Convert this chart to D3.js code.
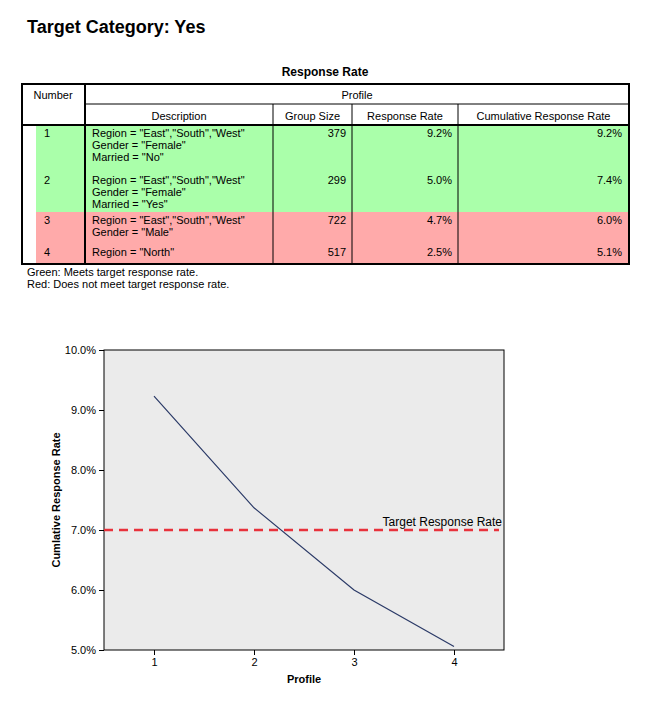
<!DOCTYPE html><html><head><script src="https://cdn.jsdelivr.net/npm/d3@7"></script>
<style>body{margin:0;background:#fff}</style></head><body><svg id="c" width="650" height="702"></svg>
<script>
const profiles=[1,2,3,4];
const descriptions=[['Region = "East","South","West"','Gender = "Female"','Married = "No"'],['Region = "East","South","West"','Gender = "Female"','Married = "Yes"'],['Region = "East","South","West"','Gender = "Male"'],['Region = "North"']];
const groupSizes=[379,299,722,517];
const responseRates=[9.2,5.0,4.7,2.5];
const cumRates=[9.2,7.4,6.0,5.1];
const cumLine=[9.23,7.37,6.0,5.06];
const meets=[true,true,false,false];
const target=7.0;
const yTicks=[5,6,7,8,9,10];
const svg=d3.select('#c');const F='Arial, Liberation Sans, sans-serif';
svg.append('text').attr('x',27).attr('y',33).attr('font-family',F).attr('font-weight','bold').attr('font-size',18).text('Target Category: Yes');
svg.append('text').attr('x',325).attr('y',76).attr('text-anchor','middle').attr('font-family',F).attr('font-weight','bold').attr('font-size',12).text('Response Rate');
const cols=[85,273,352,458,629];
const rowTop=[125,172,212,244],rowBot=[172,212,244,264];
const g=svg.append('g').attr('font-family',F).attr('font-size',11);
profiles.forEach((p,i)=>{g.append('rect').attr('x',36).attr('y',rowTop[i]).attr('width',629-36).attr('height',rowBot[i]-rowTop[i]).attr('fill',meets[i]?'#aaffaa':'#ffaaaa');});
const L=(x1,y1,x2,y2,w)=>g.append('line').attr('x1',x1).attr('y1',y1).attr('x2',x2).attr('y2',y2).attr('stroke','#000').attr('stroke-width',w||1);
L(85,104,629,104);
[273,352,458].forEach(x=>L(x,104,x,264));
L(85,84,85,264,2);L(22,125,629,125,2);
g.append('rect').attr('x',22).attr('y',84).attr('width',607).attr('height',180).attr('fill','none').attr('stroke','#000').attr('stroke-width',2);
g.append('text').attr('x',53).attr('y',99).attr('text-anchor','middle').text('Number');
g.append('text').attr('x',357).attr('y',99).attr('text-anchor','middle').text('Profile');
['Description','Group Size','Response Rate','Cumulative Response Rate'].forEach((t,j)=>g.append('text').attr('x',(cols[j]+cols[j+1])/2).attr('y',120).attr('text-anchor','middle').text(t));
profiles.forEach((p,i)=>{const y=rowTop[i]+12;
g.append('text').attr('x',44).attr('y',y).text(p);
descriptions[i].forEach((d,k)=>g.append('text').attr('x',92).attr('y',y+k*12).text(d));
g.append('text').attr('x',346).attr('y',y).attr('text-anchor','end').text(groupSizes[i]);
g.append('text').attr('x',452).attr('y',y).attr('text-anchor','end').text(responseRates[i].toFixed(1)+'%');
g.append('text').attr('x',622).attr('y',y).attr('text-anchor','end').text(cumRates[i].toFixed(1)+'%');});
g.append('text').attr('x',27).attr('y',276).text('Green: Meets target response rate.');
g.append('text').attr('x',27).attr('y',288).text('Red: Does not meet target response rate.');
const x=d3.scaleLinear().domain([0.5,4.5]).range([104,504]);
const y=d3.scaleLinear().domain([5,10]).range([650,350]);
const c=svg.append('g').attr('font-family',F);
c.append('rect').attr('x',104).attr('y',350).attr('width',400).attr('height',300).attr('fill','#ebebeb').attr('stroke','#000');
c.append('g').attr('transform','translate(104,0)').call(d3.axisLeft(y).tickValues(yTicks).tickSize(5).tickFormat(d=>d.toFixed(1)+'%')).call(a=>{a.select('.domain').remove();a.selectAll('text').attr('font-size',11).attr('font-family',F);});
c.append('g').attr('transform','translate(0,650)').call(d3.axisBottom(x).tickValues(profiles).tickSize(5).tickFormat(d3.format('d'))).call(a=>{a.select('.domain').remove();a.selectAll('text').attr('font-size',11).attr('font-family',F);});
c.append('line').attr('x1',x(0.5)).attr('x2',x(4.45)).attr('y1',y(target)).attr('y2',y(target)).attr('stroke','#e8323c').attr('stroke-width',2.5).attr('stroke-dasharray','9,6');
c.append('text').attr('x',502).attr('y',y(target)-4).attr('text-anchor','end').attr('font-size',12).text('Target Response Rate');
c.append('path').datum(cumLine).attr('fill','none').attr('stroke','#2b3a67').attr('stroke-width',1.2).attr('d',d3.line().x((d,i)=>x(profiles[i])).y(d=>y(d)));
c.append('text').attr('x',304).attr('y',683).attr('text-anchor','middle').attr('font-weight','bold').attr('font-size',11).text('Profile');
c.append('text').attr('transform','translate(60,500) rotate(-90)').attr('text-anchor','middle').attr('font-weight','bold').attr('font-size',11).text('Cumlative Response Rate');
</script></body></html>
